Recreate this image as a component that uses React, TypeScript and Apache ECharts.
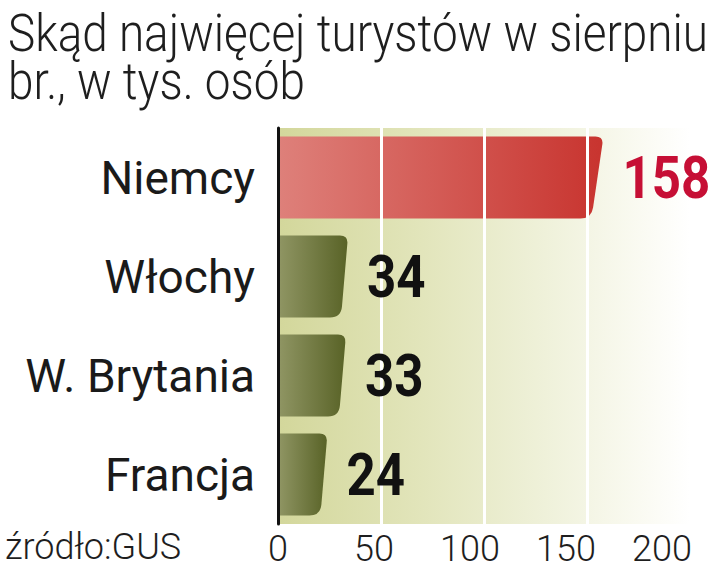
import React, { useEffect, useRef } from "react";
import * as echarts from "echarts";

const categories = ["Niemcy", "Włochy", "W. Brytania", "Francja"];
const values = [158, 34, 33, 24];
const tickValues = [0, 50, 100, 150, 200];
const tickLabels = ["0", "50", "100", "150", "200"];
const titleLines = ["Skąd najwięcej turystów w sierpniu", "br., w tys. osób"];
const sourceText = "źródło:GUS";

const FONT = "Roboto, 'Liberation Sans', sans-serif";

function measure(text: string, font: string): number {
  const c = document.createElement("canvas").getContext("2d");
  if (!c) return text.length * 26;
  c.font = font;
  return c.measureText(text).width;
}

export default function App() {
  const ref = useRef<HTMLDivElement>(null);
  useEffect(() => {
    if (!ref.current) return;
    const chart = echarts.init(ref.current, null, { renderer: "svg" });
    const data = values.map((v, i) => [v, i]);
    const titleScale = 700 / measure(titleLines[0], `300 52px Roboto`);
    const option: any = {
      animation: false,
      backgroundColor: "#ffffff",
      graphic: [
        {
          type: "text",
          x: 8,
          y: 33,
          scaleX: titleScale,
          style: {
            text: titleLines[0],
            fontFamily: FONT,
            fontSize: 52,
            fontWeight: 300,
            fill: "#1e1e1e",
            verticalAlign: "middle",
          },
        },
        {
          type: "text",
          x: 8,
          y: 81,
          scaleX: titleScale,
          style: {
            text: titleLines[1],
            fontFamily: FONT,
            fontSize: 52,
            fontWeight: 300,
            fill: "#1e1e1e",
            verticalAlign: "middle",
          },
        },
        {
          type: "text",
          x: 5,
          y: 547,
          style: {
            text: sourceText,
            fontFamily: FONT,
            fontSize: 36,
            fontWeight: 300,
            fill: "#1e1e1e",
            verticalAlign: "middle",
          },
        },
      ],
      grid: {
        left: 278,
        right: 30,
        top: 128,
        bottom: 46,
        show: true,
        borderWidth: 0,
        backgroundColor: new echarts.graphic.LinearGradient(0, 0, 1, 0, [
          { offset: 0, color: "#d3d79b" },
          { offset: 0.35, color: "#e2e5bb" },
          { offset: 0.65, color: "#eff1da" },
          { offset: 0.9, color: "#fbfbf4" },
          { offset: 1, color: "#ffffff" },
        ]),
      },
      xAxis: [
        {
          type: "value",
          min: 0,
          max: 200,
          interval: 50,
          z: 3,
          axisLine: { show: false },
          axisTick: { show: false },
          axisLabel: { show: false },
          splitLine: { show: true, lineStyle: { color: "#ffffff", width: 3 } },
        },
        {
          type: "value",
          position: "bottom",
          min: 0,
          max: 214.6,
          interval: 50,
          z: 3,
          axisLine: { show: false },
          axisTick: { show: false },
          splitLine: { show: false },
          axisLabel: {
            show: true,
            margin: 7,
            fontFamily: FONT,
            fontSize: 36,
            fontWeight: 300,
            color: "#1e1e1e",
            showMaxLabel: false,
            formatter: (v: number) => {
              const i = tickValues.indexOf(v);
              return i >= 0 ? tickLabels[i] : "";
            },
          },
        },
      ],
      yAxis: {
        type: "category",
        data: categories,
        inverse: true,
        z: 4,
        axisLine: { show: true, lineStyle: { color: "#111111", width: 3 } },
        axisTick: { show: false },
        splitLine: { show: false },
        axisLabel: {
          margin: 23,
          fontFamily: FONT,
          fontSize: 46,
          color: "#1a1a1a",
        },
      },
      series: [
        {
          type: "custom",
          name: "bars",
          xAxisIndex: 0,
          silent: true,
          z: 2,
          encode: { x: 0, y: 1 },
          data,
          renderItem: (params: any, api: any) => {
            const v = api.value(0);
            const c = api.value(1);
            const start = api.coord([0, c]);
            const end = api.coord([v, c]);
            const band = api.size([0, 1])[1];
            const h = band * 0.83;
            const y0 = end[1] - h / 2;
            const y1 = end[1] + h / 2;
            const x0 = start[0] + 1;
            const x1 = end[0];
            const hl = params.dataIndex === 0;
            const s = hl ? 12 : 7;
            const rt = 8;
            const rb = 11;
            const d =
              `M${x0} ${y0} L${x1 - rt} ${y0} Q${x1} ${y0} ${x1 - (s * rt) / h} ${y0 + rt} ` +
              `L${x1 - (s * (h - rb)) / h} ${y1 - rb} Q${x1 - s} ${y1} ${x1 - s - rb} ${y1} ` +
              `L${x0} ${y1} Z`;
            const fill = hl
              ? new echarts.graphic.LinearGradient(0, 0, 1, 0, [
                  { offset: 0, color: "#de807a" },
                  { offset: 1, color: "#c8342f" },
                ])
              : new echarts.graphic.LinearGradient(0, 0, 1, 0, [
                  { offset: 0, color: "#8f9563" },
                  { offset: 1, color: "#596327" },
                ]);
            return { type: "path", shape: { pathData: d }, style: { fill } };
          },
        },
        {
          type: "custom",
          name: "labels",
          xAxisIndex: 0,
          silent: true,
          z: 10,
          encode: { x: 0, y: 1 },
          data,
          renderItem: (params: any, api: any) => {
            const v = api.value(0);
            const c = api.value(1);
            const end = api.coord([v, c]);
            const hl = params.dataIndex === 0;
            return {
              type: "text",
              x: end[0] + 19,
              y: end[1],
              scaleX: 0.85,
              style: {
                text: String(v),
                fill: hl ? "#c60f35" : "#111111",
                fontFamily: FONT,
                fontWeight: "bold",
                fontSize: 60,
                align: "left",
                verticalAlign: "middle",
              },
            };
          },
        },
      ],
    };
    chart.setOption(option);
    return () => chart.dispose();
  }, []);
  return (
    <div
      ref={ref}
      style={{ position: "fixed", left: 0, top: 0, width: 720, height: 570 }}
    />
  );
}
